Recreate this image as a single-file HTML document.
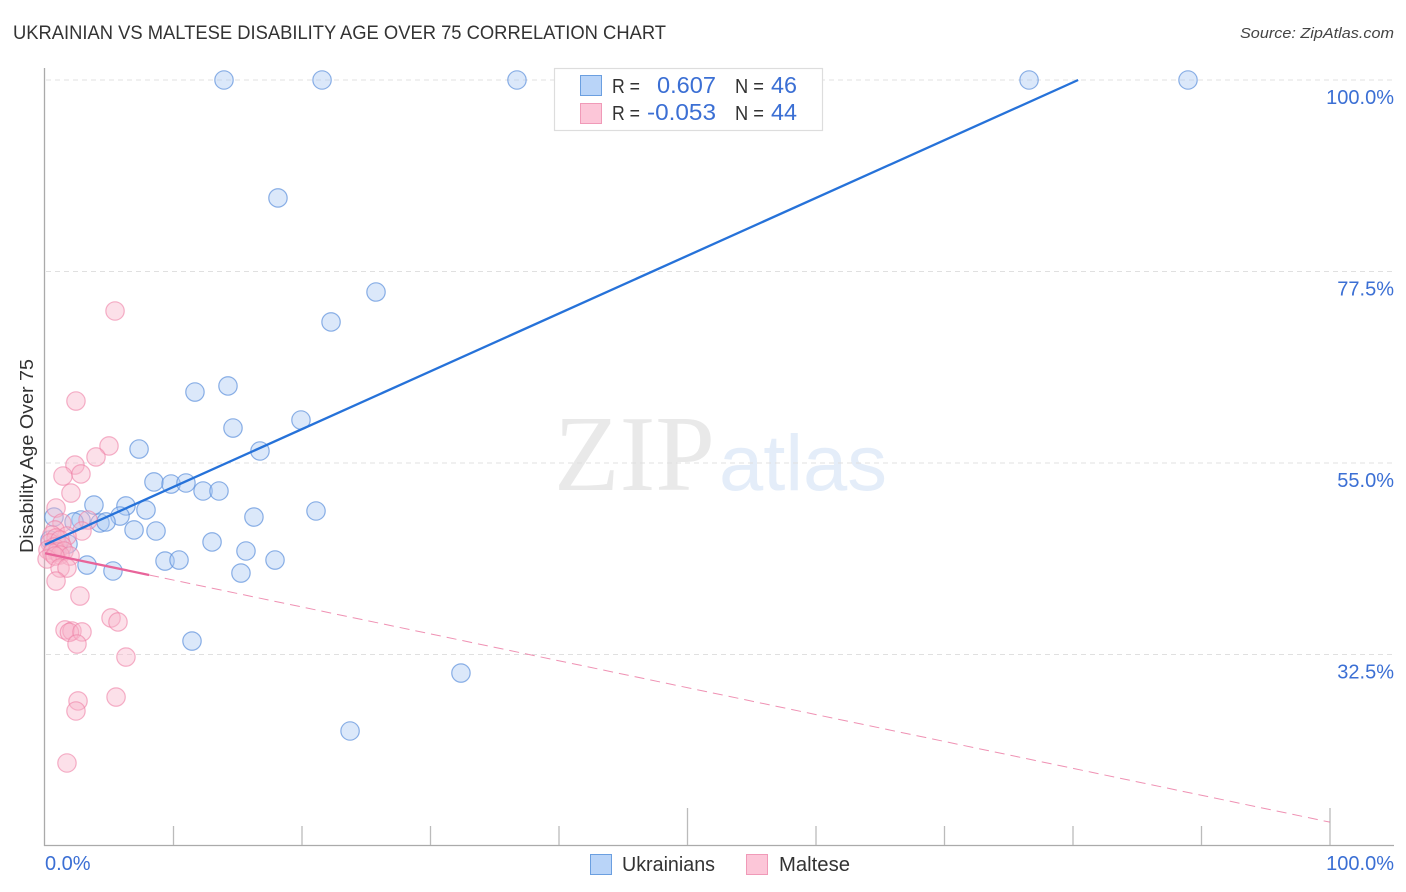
<!DOCTYPE html>
<html lang="en">
<head>
<meta charset="utf-8">
<title>Ukrainian vs Maltese Disability Age Over 75 Correlation Chart</title>
<style>
html,body{margin:0;padding:0;background:#fff;width:1406px;height:892px;overflow:hidden}
svg{display:block;font-family:"Liberation Sans",sans-serif}
</style>
</head>
<body>
<svg id="chart" xmlns="http://www.w3.org/2000/svg" width="1406" height="892" viewBox="0 0 1406 892">
  <rect x="0" y="0" width="1406" height="892" fill="#fff"/>
  <text x="13" y="39" font-size="19" fill="#333" textLength="653" lengthAdjust="spacingAndGlyphs">UKRAINIAN VS MALTESE DISABILITY AGE OVER 75 CORRELATION CHART</text>
  <text x="1394" y="38" font-size="15" font-style="italic" fill="#444" text-anchor="end" textLength="154" lengthAdjust="spacingAndGlyphs">Source: ZipAtlas.com</text>
  <g>
    <text x="554" y="490" font-family="'Liberation Serif',serif" font-size="108" fill="#e9e9e9" textLength="161" lengthAdjust="spacingAndGlyphs">ZIP</text>
    <text x="719" y="490" font-size="79" fill="#e4edf9" textLength="168" lengthAdjust="spacingAndGlyphs">atlas</text>
  </g>
  <g id="grid"></g>
  <g id="axes"></g>
  <g id="points-ukr"></g>
  <g id="points-mal"></g>
  <g id="trends"></g>
  <text transform="translate(33 456) rotate(-90)" font-size="18" fill="#333" text-anchor="middle" textLength="194" lengthAdjust="spacingAndGlyphs">Disability Age Over 75</text>

  <g>
    <rect x="554.5" y="68.5" width="268" height="62" fill="#fff" stroke="#ddd" stroke-width="1.2"/>
    <rect x="580.5" y="75.5" width="21" height="20" fill="#b9d4f8" stroke="#6b9fe0"/>
    <rect x="580.5" y="103.5" width="21" height="20" fill="#fcc6d8" stroke="#f09ab8"/>
    <text x="612" y="93" font-size="20" fill="#333" textLength="28" lengthAdjust="spacingAndGlyphs">R =</text>
    <text x="657" y="93" font-size="23" fill="#3b6fd4" textLength="59" lengthAdjust="spacingAndGlyphs">0.607</text>
    <text x="735" y="93" font-size="20" fill="#333" textLength="29" lengthAdjust="spacingAndGlyphs">N =</text>
    <text x="771" y="93" font-size="23" fill="#3b6fd4" textLength="26" lengthAdjust="spacingAndGlyphs">46</text>
    <text x="612" y="120" font-size="20" fill="#333" textLength="28" lengthAdjust="spacingAndGlyphs">R =</text>
    <text x="647" y="120" font-size="23" fill="#3b6fd4" textLength="69" lengthAdjust="spacingAndGlyphs">-0.053</text>
    <text x="735" y="120" font-size="20" fill="#333" textLength="29" lengthAdjust="spacingAndGlyphs">N =</text>
    <text x="771" y="120" font-size="23" fill="#3b6fd4" textLength="26" lengthAdjust="spacingAndGlyphs">44</text>
  </g>

  <g>
    <rect x="590.5" y="854.5" width="21" height="20" fill="#b9d4f8" stroke="#6b9fe0"/>
    <text x="622" y="871" font-size="20" fill="#333" textLength="93" lengthAdjust="spacingAndGlyphs">Ukrainians</text>
    <rect x="746.5" y="854.5" width="21" height="20" fill="#fcc6d8" stroke="#f09ab8"/>
    <text x="779" y="871" font-size="20" fill="#333" textLength="71" lengthAdjust="spacingAndGlyphs">Maltese</text>
  </g>
</svg>
<script>
const yTickValues = [100, 77.5, 55, 32.5];
const yTickLabels = ['100.0%', '77.5%', '55.0%', '32.5%'];
const xTickValues = [10, 20, 30, 40, 50, 60, 70, 80, 90, 100];
const xMajorTicks = [50, 100];
const xEndValues = [0, 100];
const xEndLabels = ['0.0%', '100.0%'];

const ukrainiansX = [13.93,21.56,36.73,76.58,88.95,18.13,25.76,22.26,14.24,11.67,19.92,14.63,7.32,16.73,8.48,9.81,10.97,12.30,13.54,3.81,6.30,7.86,5.84,21.09,16.26,0.7,2.80,2.26,4.28,4.75,6.93,8.64,13.0,1.79,15.64,9.34,10.43,17.9,3.27,5.29,15.25,11.44,32.37,23.74,1.01,0.39];
const ukrainiansY = [100,100,100,100,100,86.14,75.09,71.57,64.05,63.34,60.05,59.11,56.64,56.41,52.77,52.53,52.65,51.71,51.71,50.06,49.95,49.48,48.77,49.36,48.65,48.65,48.30,48.07,47.95,48.07,47.13,47.01,45.72,45.48,44.66,43.48,43.6,43.6,43.01,42.31,42.07,34.08,30.32,23.51,45.36,45.95];

const malteseX = [5.45,2.41,4.98,3.97,2.33,1.40,2.80,2.02,0.86,1.32,3.35,0.78,2.88,1.71,0.54,0.86,0.39,1.17,0.7,1.32,0.23,0.93,1.48,0.54,1.17,1.95,0.16,0.78,1.17,1.71,0.86,2.72,1.56,2.1,1.9,2.88,2.49,5.14,5.68,6.3,5.53,2.57,2.41,1.71];
const malteseY = [72.86,62.28,57.0,55.71,54.76,53.47,53.71,51.47,49.71,47.95,48.3,47.13,47.01,46.42,46.54,46.19,45.6,45.95,45.13,45.25,44.78,44.54,44.66,44.42,44.19,44.07,43.72,44.07,42.66,42.66,41.13,39.37,35.38,35.26,35.1,35.15,33.73,36.79,36.32,32.2,27.5,27.04,25.86,19.75];

const ukrainiansTrendX = [0, 80.4];
const ukrainiansTrendY = [45.4, 100];
const malteseTrendX = [0, 100];
const malteseTrendY = [44.4, 12.8];
const malteseSolidEnd = [8.1];

const NS = 'http://www.w3.org/2000/svg';
function xScale(v) { return 45 + v * 12.85; }
function yScale(v) { return 80 + (100 - v) * 8.511; }
function make(tag, attrs, parent) {
  const el = document.createElementNS(NS, tag);
  for (const k in attrs) el.setAttribute(k, attrs[k]);
  parent.appendChild(el);
  return el;
}
const grid = document.getElementById('grid');
const axes = document.getElementById('axes');

yTickValues.forEach(function (v, i) {
  const line = make('line', {x1: 46, x2: 1394, y1: yScale(v), y2: yScale(v), stroke: '#e0e0e0', 'stroke-width': 1, 'stroke-dasharray': '5 4'}, grid);
  
  
  const label = make('text', {x: 1394, y: yScale(v) + 24, 'font-size': 20, fill: '#3b6fd4', 'text-anchor': 'end'}, axes);
  label.textContent = yTickLabels[i];
  
  
});

const yAxis = make('line', {x1: 44.5, x2: 44.5, y1: 68, y2: 846, stroke: '#aaa', 'stroke-width': 1.3}, axes);


const xAxis = make('line', {x1: 44, x2: 1394, y1: 845.5, y2: 845.5, stroke: '#aaa', 'stroke-width': 1.3}, axes);



xTickValues.forEach(function (v) {
  const isMajor = xMajorTicks.indexOf(v) >= 0;
  const tick = make('line', {x1: xScale(v), x2: xScale(v), y1: isMajor ? 808 : 826, y2: 845, stroke: '#bbb', 'stroke-width': 1.3}, axes);
  
  
});

xEndValues.forEach(function (v, i) {
  const label = make('text', {x: i === 0 ? xScale(v) : 1394, y: 870, 'font-size': 20, fill: '#3b6fd4', 'text-anchor': i === 0 ? 'start' : 'end'}, axes);
  label.textContent = xEndLabels[i];
  
  
});

const ukrGroup = document.getElementById('points-ukr');
ukrainiansX.forEach(function (v, i) {
  const c = make('circle', {cx: xScale(v), cy: yScale(ukrainiansY[i]), r: 9.2, fill: '#a9c9f3', 'fill-opacity': 0.42, stroke: '#5c90dc', 'stroke-opacity': 0.7, 'stroke-width': 1.2}, ukrGroup);
  
  
});

const malGroup = document.getElementById('points-mal');
malteseX.forEach(function (v, i) {
  const c = make('circle', {cx: xScale(v), cy: yScale(malteseY[i]), r: 9.2, fill: '#f8b4cb', 'fill-opacity': 0.42, stroke: '#ee7fa5', 'stroke-opacity': 0.6, 'stroke-width': 1.2}, malGroup);
  
  
});

const trends = document.getElementById('trends');
const ukrTrend = make('line', {x1: xScale(ukrainiansTrendX[0]), y1: yScale(ukrainiansTrendY[0]), x2: xScale(ukrainiansTrendX[1]), y2: yScale(ukrainiansTrendY[1]), stroke: '#2672d9', 'stroke-width': 2.3}, trends);



function malteseAt(x) {
  const t = (x - malteseTrendX[0]) / (malteseTrendX[1] - malteseTrendX[0]);
  return malteseTrendY[0] + t * (malteseTrendY[1] - malteseTrendY[0]);
}
const malDash = make('line', {x1: xScale(malteseSolidEnd[0]), y1: yScale(malteseAt(malteseSolidEnd[0])), x2: xScale(malteseTrendX[1]), y2: yScale(malteseTrendY[1]), stroke: '#ea6c9a', 'stroke-width': 1, 'stroke-dasharray': '10 6', 'stroke-opacity': 0.75}, trends);


const malSolid = make('line', {x1: xScale(malteseTrendX[0]), y1: yScale(malteseTrendY[0]), x2: xScale(malteseSolidEnd[0]), y2: yScale(malteseAt(malteseSolidEnd[0])), stroke: '#e8649a', 'stroke-width': 2.3}, trends);


</script>
</body>
</html>
